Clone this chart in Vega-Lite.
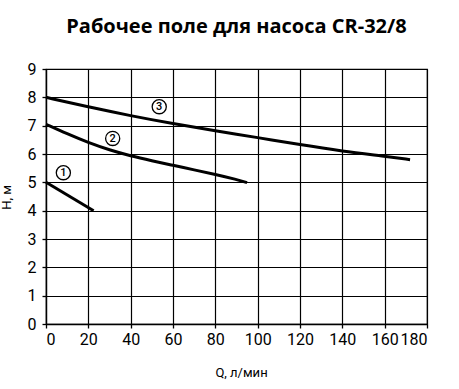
{
  "$schema": "https://vega.github.io/schema/vega-lite/v6.json",
  "autosize": "none",
  "width": 381,
  "height": 255,
  "padding": {"left": 46, "top": 69, "right": 32, "bottom": 65},
  "background": "white",
  "title": {
    "text": "Рабочее поле для насоса CR-32/8",
    "font": "Open Sans",
    "fontSize": 20,
    "fontWeight": "bold",
    "color": "black",
    "anchor": "middle",
    "frame": "group",
    "offset": 24
  },
  "config": {
    "view": {"stroke": "black", "strokeWidth": 1.2, "strokeOpacity": 1},
    "axis": {
      "grid": true,
      "gridColor": "black",
      "gridWidth": 1.2,
      "gridOpacity": 1,
      "domainColor": "black",
      "domainWidth": 1.3,
      "tickColor": "black",
      "tickSize": 4,
      "tickWidth": 1.3,
      "labelFont": "Roboto",
      "labelFontSize": 16,
      "labelColor": "black",
      "labelOverlap": false,
      "titleFont": "Roboto",
      "titleFontSize": 13,
      "titleFontWeight": "normal",
      "titleColor": "black"
    }
  },
  "datasets": {
    "curves": [
      {"curve": "1", "q": 0, "h": 5.0},
      {"curve": "1", "q": 22.5, "h": 4.0},
      {"curve": "2", "q": 0, "h": 7.05},
      {"curve": "2", "q": 10, "h": 6.71},
      {"curve": "2", "q": 20, "h": 6.4},
      {"curve": "2", "q": 30, "h": 6.14},
      {"curve": "2", "q": 40, "h": 5.93},
      {"curve": "2", "q": 50, "h": 5.76},
      {"curve": "2", "q": 60, "h": 5.6},
      {"curve": "2", "q": 70, "h": 5.44},
      {"curve": "2", "q": 80, "h": 5.28},
      {"curve": "2", "q": 90, "h": 5.1},
      {"curve": "2", "q": 95, "h": 4.99},
      {"curve": "3", "q": 0, "h": 8.0},
      {"curve": "3", "q": 20, "h": 7.66},
      {"curve": "3", "q": 40, "h": 7.35},
      {"curve": "3", "q": 60, "h": 7.07},
      {"curve": "3", "q": 80, "h": 6.82},
      {"curve": "3", "q": 100, "h": 6.58},
      {"curve": "3", "q": 120, "h": 6.33},
      {"curve": "3", "q": 140, "h": 6.1},
      {"curve": "3", "q": 160, "h": 5.92},
      {"curve": "3", "q": 172, "h": 5.8}
    ],
    "labels": [
      {"label": "1", "q": 8.2, "h": 5.34},
      {"label": "2", "q": 31.5, "h": 6.55},
      {"label": "3", "q": 53.5, "h": 7.67}
    ]
  },
  "encoding": {
    "x": {
      "field": "q", "type": "quantitative",
      "scale": {"domain": [0, 180], "nice": false},
      "axis": {"grid": true, "gridColor": "black", "gridWidth": 1.2, "values": [0, 20, 40, 60, 80, 100, 120, 140, 160, 180], "labelOverlap": false, "title": "Q, л/мин", "titleX": 195, "titleY": 48, "titleBaseline": "middle", "labelPadding": 3}
    },
    "y": {
      "field": "h", "type": "quantitative",
      "scale": {"domain": [0, 9], "nice": false},
      "axis": {"grid": true, "gridColor": "black", "gridWidth": 1.2, "values": [0, 1, 2, 3, 4, 5, 6, 7, 8, 9], "labelOverlap": false, "title": "Н, м", "titleX": -40, "titleY": 128, "titleAngle": -90, "titleAlign": "center", "titleBaseline": "middle", "labelPadding": 6}
    }
  },
  "layer": [
    {
      "data": {"name": "curves"},
      "mark": {"type": "line", "color": "black", "strokeWidth": 3, "interpolate": "basis"},
      "encoding": {
        "detail": {"field": "curve"}
      }
    },
    {
      "data": {"name": "labels"},
      "mark": {"type": "point", "shape": "circle", "filled": true, "fill": "white", "stroke": "black", "strokeWidth": 1.3, "size": 200, "opacity": 1}
    },
    {
      "data": {"name": "labels"},
      "mark": {"type": "text", "font": "Roboto", "fontSize": 11, "fontWeight": 500, "color": "black", "baseline": "middle", "align": "center", "dy": 0.5},
      "encoding": {
        "text": {"field": "label"}
      }
    }
  ]
}
